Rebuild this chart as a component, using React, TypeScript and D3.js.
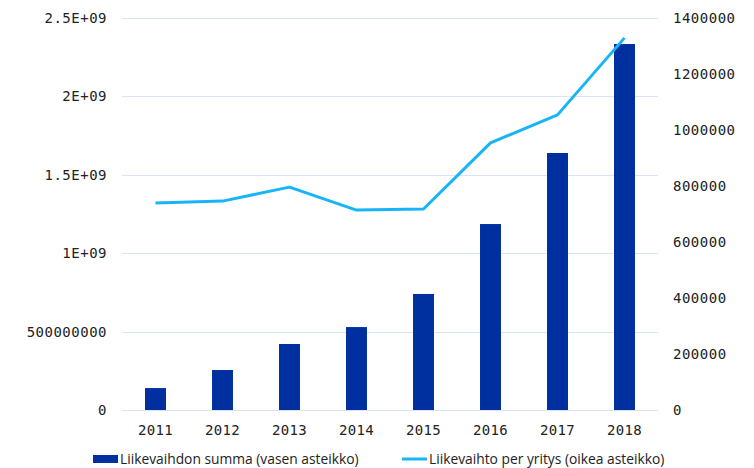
import React, { useEffect, useRef } from "react";
import * as d3 from "d3";

// data
const years = ["2011", "2012", "2013", "2014", "2015", "2016", "2017", "2018"];
const revenueSum = [1.4e8, 2.55e8, 4.21e8, 5.29e8, 7.4e8, 1.186e9, 1.639e9, 2.334e9];
const revenuePerCompany = [739000, 746000, 796000, 714000, 718000, 954000, 1054000, 1329000];
const leftTicks = [0, 5e8, 1e9, 1.5e9, 2e9, 2.5e9];
const leftTickLabels = ["0", "500000000", "1E+09", "1.5E+09", "2E+09", "2.5E+09"];
const rightTicks = [0, 200000, 400000, 600000, 800000, 1000000, 1200000, 1400000];
const seriesNames = ["Liikevaihdon summa (vasen asteikko)", "Liikevaihto per yritys (oikea asteikko)"];

const W = 754;
const H = 468;
const BAR = "#0030a0";
const LINE = "#18b4f8";
const GRID = "#d9e2f8";
const TXT = "#222";
const MONO = "'DejaVu Sans Mono', monospace";
const SANS = "'Open Sans', sans-serif";

const App = () => {
  const ref = useRef<SVGSVGElement>(null);

  useEffect(() => {
    const svg = d3.select(ref.current);
    svg.selectAll("*").remove();

    const m = { left: 122, right: 658, top: 18, bottom: 410 };

    const x = d3
      .scaleBand()
      .domain(years)
      .range([m.left, m.right])
      .paddingInner(0.687)
      .paddingOuter(0.3435);

    const yL = d3.scaleLinear().domain([0, 2.5e9]).range([m.bottom, m.top]);
    const yR = d3.scaleLinear().domain([0, 1400000]).range([m.bottom, m.top]);

    // gridlines (left axis)
    svg.append("g")
      .selectAll("line")
      .data(leftTicks)
      .join("line")
      .attr("x1", m.left)
      .attr("x2", m.right)
      .attr("y1", (d) => Math.round(yL(d)) + 0.5)
      .attr("y2", (d) => Math.round(yL(d)) + 0.5)
      .attr("stroke", GRID)
      .attr("stroke-width", 1);

    // left axis labels
    svg.append("g")
      .selectAll("text")
      .data(leftTicks)
      .join("text")
      .attr("x", 107)
      .attr("y", (d) => yL(d))
      .attr("dy", "0.35em")
      .attr("text-anchor", "end")
      .attr("font-family", MONO)
      .attr("font-size", 14)
      .attr("letter-spacing", 0.5)
      .attr("fill", TXT)
      .text((d, i) => leftTickLabels[i]);

    // right axis labels
    svg.append("g")
      .selectAll("text")
      .data(rightTicks)
      .join("text")
      .attr("x", 673)
      .attr("y", (d) => yR(d))
      .attr("dy", "0.35em")
      .attr("text-anchor", "start")
      .attr("font-family", MONO)
      .attr("font-size", 14)
      .attr("letter-spacing", 0.5)
      .attr("fill", TXT)
      .text((d) => String(d));

    // bars
    svg.append("g")
      .attr("fill", BAR)
      .selectAll("rect")
      .data(revenueSum)
      .join("rect")
      .attr("x", (d, i) => x(years[i])!)
      .attr("y", (d) => yL(d))
      .attr("width", x.bandwidth())
      .attr("height", (d) => yL(0) - yL(d));

    // line
    const line = d3
      .line<number>()
      .x((d, i) => x(years[i])! + x.bandwidth() / 2)
      .y((d) => yR(d));

    svg.append("path")
      .datum(revenuePerCompany)
      .attr("d", line)
      .attr("fill", "none")
      .attr("stroke", LINE)
      .attr("stroke-width", 3)
      .attr("stroke-linejoin", "round");

    // x labels
    svg.append("g")
      .selectAll("text")
      .data(years)
      .join("text")
      .attr("x", (d) => x(d)! + x.bandwidth() / 2)
      .attr("y", 430)
      .attr("dy", "0.35em")
      .attr("text-anchor", "middle")
      .attr("font-family", MONO)
      .attr("font-size", 14)
      .attr("letter-spacing", 0.3)
      .attr("fill", TXT)
      .text((d) => d);

    // legend
    const lg = svg.append("g").attr("font-family", SANS).attr("font-size", 13.8).attr("fill", TXT);
    lg.append("rect").attr("x", 93).attr("y", 455).attr("width", 25).attr("height", 8).attr("fill", BAR);
    lg.append("text").attr("x", 120).attr("y", 459).attr("dy", "0.35em").text(seriesNames[0]);
    lg.append("line")
      .attr("x1", 402).attr("x2", 427).attr("y1", 459).attr("y2", 459)
      .attr("stroke", LINE).attr("stroke-width", 3);
    lg.append("text").attr("x", 429).attr("y", 459).attr("dy", "0.35em").text(seriesNames[1]);
  }, []);

  return (
    <svg
      ref={ref}
      width={W}
      height={H}
      style={{ display: "block", position: "absolute", left: 0, top: 0 }}
    />
  );
};

export default App;
